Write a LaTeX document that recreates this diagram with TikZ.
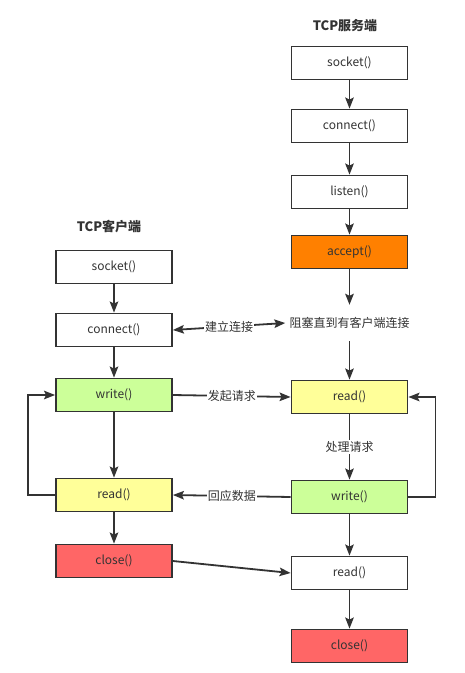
\documentclass[tikz,border=0pt]{standalone}
\usepackage{fontspec}
\setmainfont{Noto Sans CJK SC}
\usepackage{xcolor}
\usetikzlibrary{arrows, arrows.meta}
\definecolor{linegray}{HTML}{333333}
\definecolor{acceptorange}{HTML}{FF8000}
\definecolor{readyellow}{HTML}{FFFF99}
\definecolor{writegreen}{HTML}{CCFF99}
\definecolor{closered}{HTML}{FF6666}

\begin{document}
\begin{tikzpicture}[x=1pt,y=-1pt,
		box/.style={draw=linegray, line width=1.8pt, minimum width=116pt, minimum height=33pt, inner sep=0pt, text=linegray, font=\fontsize{12}{14}\selectfont},
		title/.style={text=linegray, font=\fontsize{13}{15}\selectfont\bfseries},
		lbl/.style={fill=white, text=linegray, inner sep=1pt, font=\fontsize{12}{14}\selectfont},
		tip/.tip={Stealth[length=11pt,width=8.5pt,inset=2pt]},
		arr/.style={draw=linegray, line width=1.8pt, -tip}]
			\useasboundingbox (0,0) rectangle (465,673);
			% titles
			\node[title] (stitle) at (345,26) {TCP服务端};
			\node[title] (ctitle) at (109,227) {TCP客户端};
			% server side
			\node[box] (ssocket) at (349.5,63) {socket()};
			\node[box] (sconnect) at (349.5,126) {connect()};
			\node[box] (slisten) at (349.5,192) {listen()};
			\node[box, fill=acceptorange] (saccept) at (349.5,252) {accept()};
			\node[lbl, minimum width=128pt, minimum height=36pt] (sblock) at (349.5,323) {阻塞直到有客户端连接};
			\node[box, fill=readyellow] (sread) at (349.5,397) {read()};
			\node[box, fill=writegreen] (swrite) at (349.5,497) {write()};
			\node[box] (sreadend) at (349.5,573) {read()};
			\node[box, fill=closered] (sclose) at (349.5,646) {close()};
			% client side
			\node[box] (csocket) at (114,267) {socket()};
			\node[box] (cconnect) at (114,330) {connect()};
			\node[box, fill=writegreen] (cwrite) at (114,395) {write()};
			\node[box, fill=readyellow] (cread) at (114,495) {read()};
			\node[box, fill=closered] (cclose) at (114,561) {close()};
			
			% server arrows
			\draw[arr] (ssocket) -- (sconnect);
			\draw[arr] (sconnect) -- (slisten);
			\draw[arr] (slisten) -- (saccept);
			\draw[arr] (saccept) -- (sblock);
			\draw[arr] (sblock) -- (sread);
			\draw[arr] (sread) -- (swrite) node[lbl, midway] {处理请求};
			\draw[arr] (swrite) -- (sreadend);
			\draw[arr] (sreadend) -- (sclose);
			\draw[arr] (swrite.east) -- ++(27,0) |- (sread.east);
			% client arrows
			\draw[arr] (csocket) -- (cconnect);
			\draw[arr] (cconnect) -- (cwrite);
			\draw[arr] (cwrite) -- (cread);
			\draw[arr] (cread) -- (cclose);
			\draw[arr] (cread.west) -- ++(-27,0) |- (cwrite.west);
			% between the two
			\draw[arr, tip-tip] (cconnect.east) -- (sblock.west) node[lbl, midway] {建立连接};
			\draw[arr] (cwrite.east) -- (sread.west) node[lbl, midway] {发起请求};
			\draw[arr] (swrite.west) -- (cread.east) node[lbl, midway] {回应数据};
			\draw[arr] (cclose.east) -- (sreadend.west);
		\end{tikzpicture}
\end{document}
